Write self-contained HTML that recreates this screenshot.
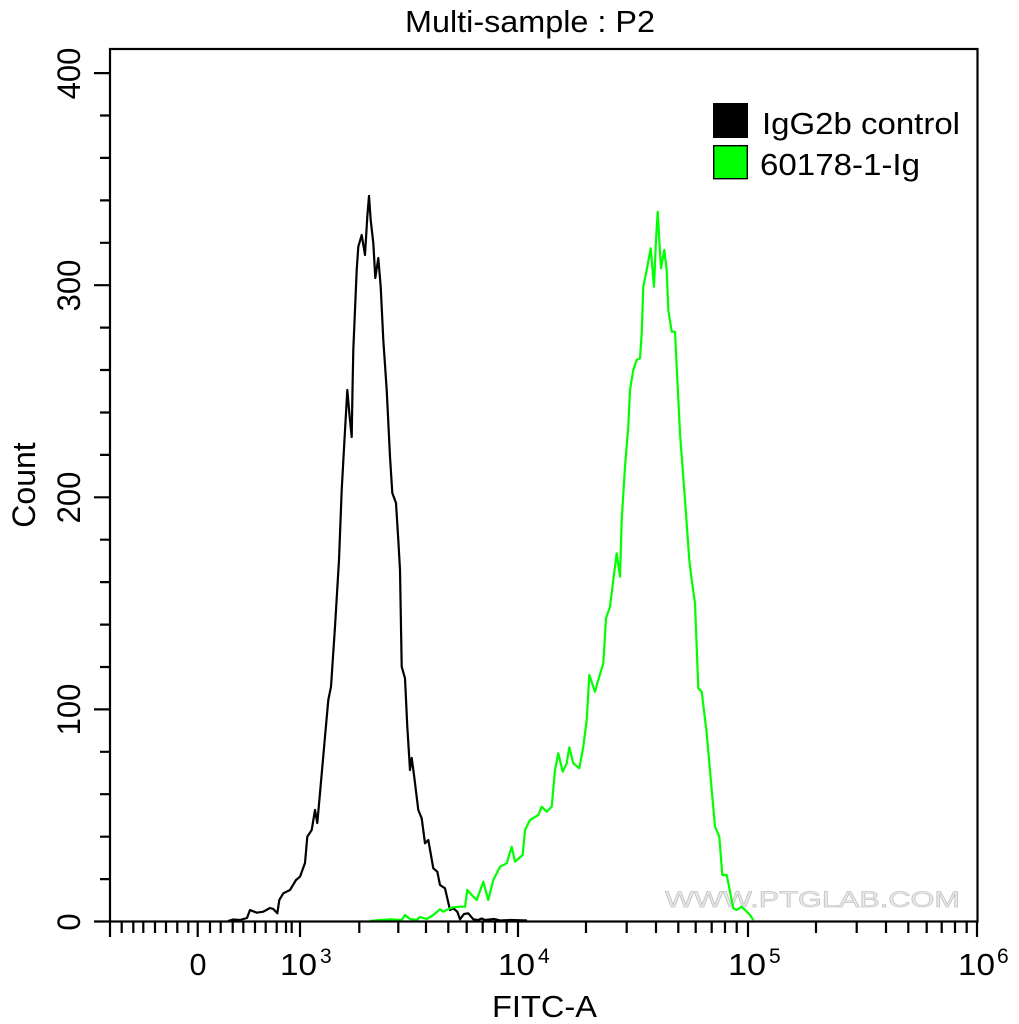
<!DOCTYPE html>
<html><head><meta charset="utf-8"><style>
html,body{margin:0;padding:0;background:#fff;}
svg{display:block;}
text{font-family:"Liberation Sans",Arial,sans-serif;fill:#000;}
</style></head><body>
<svg width="1019" height="1024" viewBox="0 0 1019 1024" xmlns="http://www.w3.org/2000/svg">
<rect x="0" y="0" width="1019" height="1024" fill="#fff"/>
<text x="405" y="32" font-size="31" textLength="250" lengthAdjust="spacingAndGlyphs">Multi-sample : P2</text>
<text x="665" y="907" font-size="22" textLength="295" lengthAdjust="spacingAndGlyphs" style="fill:#ececec;stroke:#c4c4c4;stroke-width:0.7">WWW.PTGLAB.COM</text>
<polyline fill="none" stroke="#000" stroke-width="2.2" stroke-linejoin="round" points="228,921 233,919.5 240,920 247,918 250,910 256.7,912.7 263.3,911.7 270,908 273.3,909 277.3,913.3 279.3,900 283.3,893.3 290,890 296,880 300,876.7 305,863 307.3,836.7 311.7,830 315,810 317.3,823 320,793 325,736.7 328.3,700 331,686.7 335,626.7 339,560 341.7,490 344.3,443 347.3,390 349.5,415 351.7,437 352.5,390 353.3,350 356.7,270 358.3,246.7 361.7,235 365,255 367.3,216.7 369,196 370.7,220 373.3,243 375.3,278 378.3,258 380.7,286.7 383.3,340 386.7,390 390,456.7 392.3,493 396,503 398.3,540 400,570 401.7,666.7 405,678.3 407.3,726.7 410,770 411.7,758 414,775 418.3,810 421.7,818.3 425,843.3 428.3,840 433.3,868.3 437.3,871.7 440,885 445,888.3 450,910 453.3,908.3 457.3,911.7 460,919.3 464,914 468.3,913.3 473.3,919.3 478,920 481.7,918.5 485,920 494,919 500,920.5 510,920 527,920.5"/>
<polyline fill="none" stroke="#00ff00" stroke-width="2.2" stroke-linejoin="round" points="370,921 380,920 390,919.3 401.7,920 405,915 410,919 416.7,920 420,917 426.7,919 433.3,915 440,909.3 443.3,911.7 450,908.3 453.3,907.3 460,906.7 465,906.7 467.3,890 471.7,895 476.7,900 483.3,881.7 488.3,900 493.3,880 500,866.7 506.7,863.3 511.7,846.7 515,861.7 522.7,855 525,830 530,820 538.3,815 541.7,806.7 546.7,811.7 551.7,806.7 555,770 558.3,753.3 562.7,771.7 566.7,763.3 569.3,747.3 573.3,763.3 579.3,768.3 583.3,746.7 586.7,720 589.3,675 595,691.7 598.3,680 603.3,663.3 606,618.3 610,606.7 613.3,580 616.7,553.3 620,576.7 621.7,520 625,466.7 628.3,426.7 630,390 633.3,370 636.7,360 640,358.3 641.7,333.3 643.3,286.7 646.7,270 650.7,248.3 654,286.7 656,240 657.7,211.7 659.3,240 661,268.3 664.3,250 666.7,270 668.3,310 671.7,331.7 675,331.7 676.7,366.7 680,433.3 685,500 689.3,560 691.7,580 695,603.3 698.3,688.3 701.7,691.7 706.7,733.3 715,826.7 719.3,836.7 722.3,875 726.7,875 733.3,908.3 736.7,910 741.7,906.7 750,915 753.3,920"/>
<rect x="110" y="49" width="867.5" height="872.5" fill="none" stroke="#000" stroke-width="2.2"/>
<path stroke="#000" stroke-width="2.2" fill="none" d="M94 921.5H110M100 879.1H110M100 836.7H110M100 794.2H110M100 751.8H110M94 709.4H110M100 667H110M100 624.6H110M100 582.1H110M100 539.7H110M94 497.3H110M100 454.9H110M100 412.5H110M100 370H110M100 327.6H110M94 285.2H110M100 242.8H110M100 200.4H110M100 157.9H110M100 115.5H110M94 73.1H110"/>
<path stroke="#000" stroke-width="2.2" fill="none" d="M110 921V937M197.7 921V937M300 921V937M518 921V937M748 921V937M977 921V937"/>
<path stroke="#000" stroke-width="2.2" fill="none" d="M121.7 921V933M133.3 921V933M143.3 921V933M155 921V933M166 921V933M177.3 921V933M188.3 921V933M210 921V933M220.7 921V933M232.7 921V933M243.3 921V933M255 921V933M265.7 921V933M276.7 921V933M286 921V933M291.7 921V933M359.3 921V933M398.3 921V933M426 921V933M448.3 921V933M466.7 921V933M482.7 921V933M495 921V933M506.7 921V933M586 921V933M626.7 921V933M656 921V933M678.3 921V933M695.7 921V933M711.7 921V933M725 921V933M736.7 921V933M816 921V933M856.7 921V933M886 921V933M908.3 921V933M926.7 921V933M941.7 921V933M955 921V933M966.7 921V933"/>
<g font-size="31" text-anchor="middle">
<text transform="translate(80,73.5) rotate(-90) scale(1,1.05)">400</text>
<text transform="translate(80,285.5) rotate(-90) scale(1,1.05)">300</text>
<text transform="translate(80,497.5) rotate(-90) scale(1,1.05)">200</text>
<text transform="translate(80,709.5) rotate(-90) scale(1,1.05)">100</text>
<text transform="translate(80,922) rotate(-90) scale(1,1.05)">0</text>
</g>
<text transform="translate(35,485) rotate(-90)" font-size="32" text-anchor="middle">Count</text>
<text x="189.5" y="975" font-size="31" textLength="17" lengthAdjust="spacingAndGlyphs">0</text>
<text x="280" y="975" font-size="31" textLength="37" lengthAdjust="spacingAndGlyphs">10</text>
<text x="320" y="963" font-size="21">3</text>
<text x="498" y="975" font-size="31" textLength="37" lengthAdjust="spacingAndGlyphs">10</text>
<text x="538" y="963" font-size="21">4</text>
<text x="728" y="975" font-size="31" textLength="38" lengthAdjust="spacingAndGlyphs">10</text>
<text x="769" y="963" font-size="21">5</text>
<text x="958" y="975" font-size="31" textLength="37" lengthAdjust="spacingAndGlyphs">10</text>
<text x="997" y="963" font-size="21">6</text>
<text x="492" y="1017" font-size="31" textLength="105" lengthAdjust="spacingAndGlyphs">FITC-A</text>
<rect x="713" y="103" width="35" height="35" fill="#000"/>
<rect x="713.7" y="145.7" width="33.6" height="33" fill="#00ff00" stroke="#000" stroke-width="1.4"/>
<text x="762" y="134" font-size="31" textLength="198" lengthAdjust="spacingAndGlyphs">IgG2b control</text>
<text x="760" y="175" font-size="31" textLength="160" lengthAdjust="spacingAndGlyphs">60178-1-Ig</text>
</svg>
</body></html>
